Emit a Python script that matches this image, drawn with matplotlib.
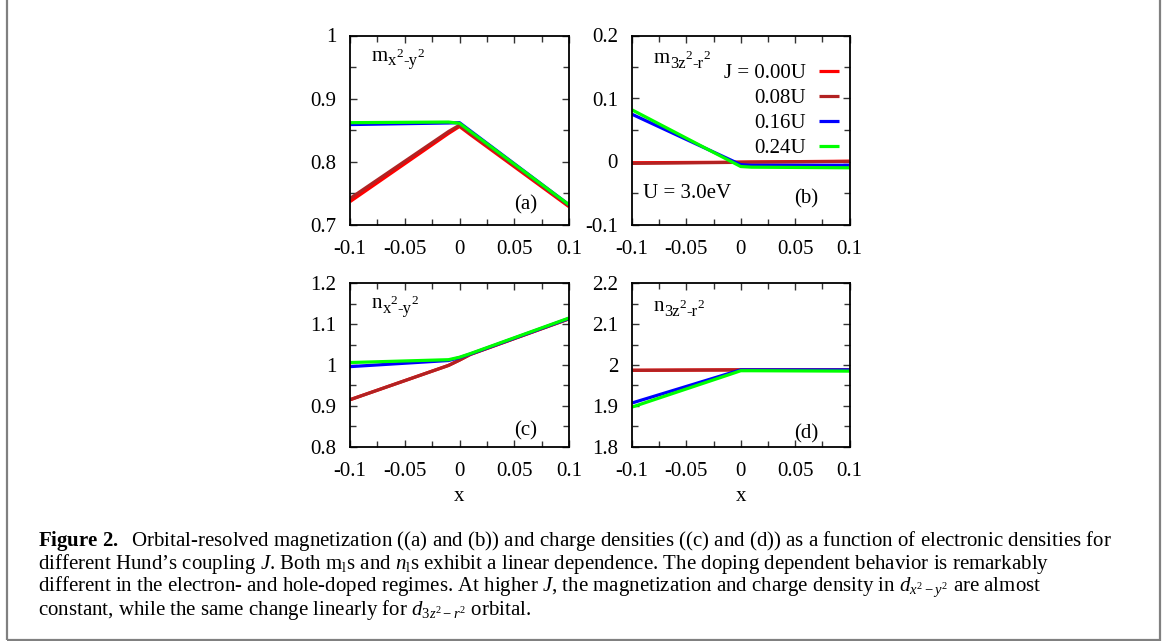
import matplotlib
matplotlib.use('Agg')
import matplotlib.pyplot as plt
from matplotlib.patches import Rectangle
from matplotlib.ticker import MultipleLocator, FuncFormatter

plt.rcParams['font.family'] = 'Liberation Serif'
plt.rcParams['mathtext.fontset'] = 'custom'
plt.rcParams['mathtext.rm'] = 'Liberation Serif'
plt.rcParams['mathtext.it'] = 'Liberation Serif:italic'
plt.rcParams['mathtext.bf'] = 'Liberation Serif:bold'
plt.rcParams['axes.unicode_minus'] = False

# doping x and Hund's coupling series
x = [-0.1, -0.01, 0.0, 0.01, 0.1]
j_labels = ['J = 0.00U', '0.08U', '0.16U', '0.24U']
colors = ['#ff0000', '#b22222', '#0000ff', '#00ff00']

# (a) m_{x2-y2}
m_x2y2 = [
    [0.737, 0.845, 0.856, 0.843, 0.729],
    [0.742, 0.848, 0.858, 0.845, 0.731],
    [0.859, 0.8615, 0.862, 0.849, 0.732],
    [0.862, 0.863, 0.861, 0.848, 0.732],
]
# (b) m_{3z2-r2}
m_3z2r2 = [
    [-0.002, -0.0012, -0.001, -0.0008, 0.0005],
    [-0.003, -0.0015, -0.0012, -0.001, 0.0],
    [0.075, 0.003, -0.005, -0.006, -0.006],
    [0.082, 0.001, -0.008, -0.009, -0.010],
]
# (c) n_{x2-y2}
n_x2y2 = [
    [0.915, 0.999, 1.012, 1.026, 1.113],
    [0.915, 0.999, 1.012, 1.026, 1.113],
    [0.996, 1.011, 1.018, 1.027, 1.114],
    [1.006, 1.013, 1.019, 1.028, 1.115],
]
# (d) n_{3z2-r2}
n_3z2r2 = [
    [1.987, 1.988, 1.988, 1.988, 1.988],
    [1.987, 1.988, 1.988, 1.988, 1.988],
    [1.907, 1.980, 1.988, 1.988, 1.988],
    [1.897, 1.977, 1.986, 1.986, 1.985],
]

fig = plt.figure(figsize=(11.63, 6.41), dpi=100)

W, H = 1163.0, 641.0
def px_axes(l, t, r, b):
    return fig.add_axes([l / W, 1 - b / H, (r - l) / W, (b - t) / H])

ax_a = px_axes(350, 35.5, 569, 225)
ax_b = px_axes(632, 35.5, 849.5, 224.5)
ax_c = px_axes(350, 283.3, 569, 446.7)
ax_d = px_axes(632, 283.3, 849.5, 446.7)

fmt = FuncFormatter(lambda v, p: '%g' % round(v, 4))


def orbital_label(ax, xpos, ybase, base, parts):
    # gnuplot-like enhanced text: base letter, then pieces (text, size, shift in pt)
    prev = ax.text(xpos, ybase, base, transform=ax.transAxes, fontsize=15, va='baseline')
    for txt, size, dy in parts:
        prev = ax.annotate(txt, xy=(1.0, ybase), xycoords=(prev, ax.transAxes),
                           xytext=(0, dy), textcoords='offset points',
                           fontsize=size, va='baseline', ha='left')


sub_xy = [('x', 12, -3.5), ('2', 9.5, 2.5), ('-y', 12, -3.5), ('2', 9.5, 2.5)]
sub_zr = [('3z', 12, -3.5), ('2', 9.5, 2.5), ('-r', 12, -3.5), ('2', 9.5, 2.5)]

panels = [
    (ax_a, m_x2y2, (0.7, 1.0), 'm', sub_xy, (0.1, 0.868), '(a)', (0.80, 0.105)),
    (ax_b, m_3z2r2, (-0.1, 0.2), 'm', sub_zr, (0.1, 0.855), '(b)', (0.80, 0.135)),
    (ax_c, n_x2y2, (0.8, 1.2), 'n', sub_xy, (0.1, 0.85), '(c)', (0.80, 0.10)),
    (ax_d, n_3z2r2, (1.8, 2.2), 'n', sub_zr, (0.1, 0.83), '(d)', (0.80, 0.08)),
]

for ax, series, ylim, base, parts, npos, tag, tpos in panels:
    for vals, c, lab in zip(series, colors, j_labels):
        ax.plot(x, vals, color=c, lw=2.3, label=lab, solid_capstyle='butt')
    ax.set_xlim(-0.1, 0.1)
    ax.set_ylim(*ylim)
    ax.xaxis.set_major_locator(MultipleLocator(0.05))
    ax.xaxis.set_minor_locator(MultipleLocator(0.025))
    ax.yaxis.set_major_locator(MultipleLocator(0.1))
    ax.yaxis.set_minor_locator(MultipleLocator(0.05))
    ax.xaxis.set_major_formatter(fmt)
    ax.yaxis.set_major_formatter(fmt)
    ax.tick_params(which='both', direction='in', top=True, right=True,
                   labelsize=15, width=1.0, color='#333333')
    ax.tick_params(which='major', length=5)
    ax.tick_params(which='minor', length=4)
    ax.tick_params(axis='y', pad=10)
    ax.tick_params(axis='x', pad=11)
    for s in ax.spines.values():
        s.set_linewidth(1.3)
    orbital_label(ax, npos[0], npos[1], base, parts)
    ax.text(tpos[0], tpos[1], tag, transform=ax.transAxes, fontsize=15, ha='center', va='center')

ax_b.text(0.05, 0.165, 'U = 3.0eV', transform=ax_b.transAxes, fontsize=15, va='center')
ax_b.legend(loc='upper right', bbox_to_anchor=(0.95, 0.85), frameon=False, markerfirst=False,
            fontsize=15, handlelength=0.95, handletextpad=0.6, labelspacing=0.25,
            borderaxespad=0, borderpad=0)

ax_c.set_xlabel('x', fontsize=15, labelpad=4)
ax_d.set_xlabel('x', fontsize=15, labelpad=4)

caption = '\n'.join([
    r'$\mathbf{Figure\ 2.}$  Orbital-resolved magnetization ((a) and (b)) and charge densities ((c) and (d)) as a function of electronic densities for',
    r'different Hund’s coupling $J$. Both m$_\mathrm{l}$s and $n_\mathrm{l}$s exhibit a linear dependence. The doping dependent behavior is remarkably',
    r'different in the electron- and hole-doped regimes. At higher $J$, the magnetization and charge density in $d_{x^2-y^2}$ are almost',
    r'constant, while the same change linearly for $d_{3z^2-r^2}$ orbital.',
])
fig.text(38 / W, 1 - 529 / H, caption, fontsize=15, va='top', linespacing=0.93)

fig.patches.append(Rectangle((6.7 / W, 1 - 640 / H), (1160 - 6.7) / W, 1.2,
                             transform=fig.transFigure, fill=False,
                             edgecolor='#808080', linewidth=1.6))

fig.savefig('out.png', dpi=100)
